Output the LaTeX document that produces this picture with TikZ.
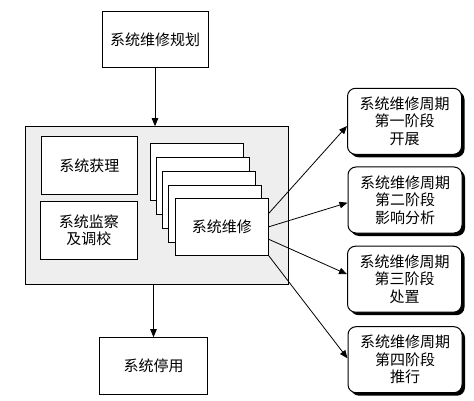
\documentclass[tikz,border=0pt]{standalone}
\usepackage{fontspec}
\setmainfont{Noto Sans CJK SC}
\usetikzlibrary{arrows.meta,calc}
\definecolor{panelgray}{RGB}{238,238,238}
\tikzset{
  box/.style={draw=black, line width=1pt, fill=white, minimum width=#1, inner sep=0pt, align=center, font=\fontsize{15}{17.5}\selectfont},
  box/.default=93pt,
  stackbox/.style={draw=black, line width=1pt, fill=white, minimum width=93pt, minimum height=57pt, inner sep=0pt, align=center, font=\fontsize{15}{17.5}\selectfont},
  phasebox/.style={draw=black, line width=1pt, fill=white, rounded corners=8pt, minimum width=114pt, minimum height=66pt, inner sep=0pt, align=center, font=\fontsize{15}{17.5}\selectfont},
  shadowbox/.style={fill=black, rounded corners=8pt, minimum width=114pt, minimum height=66pt, inner sep=0pt},
  arr/.style={-{Triangle[length=8pt,width=6.5pt]}, line width=0.8pt},
}
\begin{document}
\begin{tikzpicture}[x=1pt,y=-1pt]
\useasboundingbox (0,0) rectangle (474,401);
% top and bottom
\node[box=106pt, minimum height=56pt] (plan) at (155,40) {系统维修规划};
\node[draw=black, line width=1pt, fill=panelgray, minimum width=262.6pt, minimum height=157.6pt, inner sep=0pt] (panel) at (157,205.5) {};
\node[box=96pt, minimum height=58pt] (acq) at (89.3,165.3) {系统获理};
\node[box=97pt, minimum height=58pt] (mon) at (88.8,230.3) {系统监察\\及调校};
\node[stackbox] (s1) at (196.8,171.8) {};
\node[stackbox] (s2) at (203.0,185.8) {};
\node[stackbox] (s3) at (209.2,199.8) {};
\node[stackbox] (s4) at (215.4,213.8) {};
\node[stackbox] (main) at (221.8,226.8) {系统维修};
\node[box=107.6pt, minimum height=56.6pt] (stop) at (153.5,366) {系统停用};
% right phase boxes with shadows
\node[shadowbox] (sh1) at (407.5,124.3) {};
\node[phasebox] (r1) at (404.5,121.3) {系统维修周期\\第一阶段\\开展};
\node[shadowbox] (sh2) at (408,203) {};
\node[phasebox] (r2) at (405,200) {系统维修周期\\第二阶段\\影响分析};
\node[shadowbox] (sh3) at (407.5,282.2) {};
\node[phasebox] (r3) at (404.5,279.2) {系统维修周期\\第三阶段\\处置};
\node[shadowbox] (sh4) at (408,362.7) {};
\node[phasebox] (r4) at (405,359.7) {系统维修周期\\第四阶段\\推行};
% arrows
\draw[arr] (plan.south) -- (plan.south |- panel.north);
\draw[arr] (stop.north |- panel.south) -- (stop.north);
\draw[arr] ([yshift=13.5pt]main.east) -- ([yshift=-4.7pt]r1.west);
\draw[arr] (main.east) -- ([yshift=-2.7pt]r2.west);
\draw[arr] ([yshift=-12.5pt]main.east) -- ([yshift=5pt]r3.west);
\draw[arr] (main.south east) -- ([yshift=1.4pt]r4.west);
\end{tikzpicture}
\end{document}
